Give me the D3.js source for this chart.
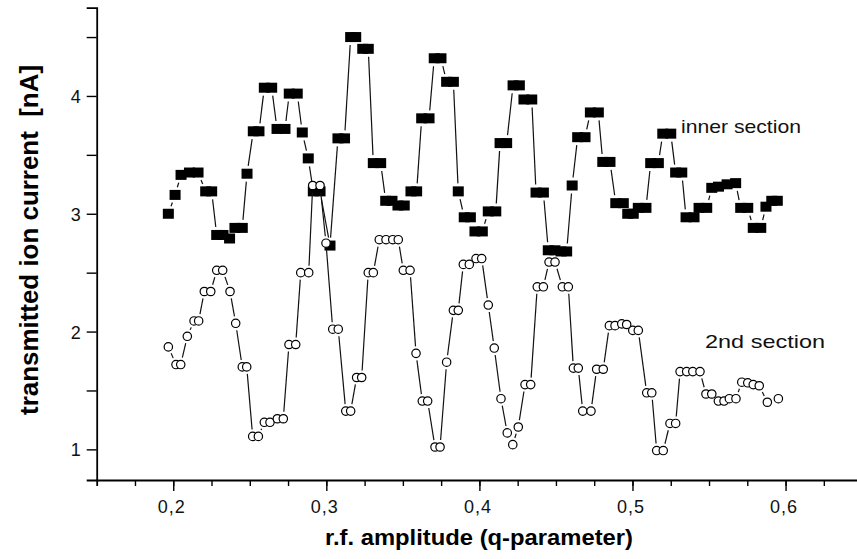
<!DOCTYPE html>
<html>
<head>
<meta charset="utf-8">
<script src="https://cdn.jsdelivr.net/npm/d3@7"></script>
<style>
  body { margin: 0; background: #fff; }
  svg { display: block; font-family: "Liberation Sans", Arial, sans-serif; }
</style>
</head>
<body>
<div id="graph"></div>
<script>
// values
const innerQ = [0.1968, 0.2012, 0.2051, 0.2106, 0.2162, 0.2212, 0.2251, 0.2284, 0.2325, 0.2368,
  0.2403, 0.2451, 0.2482, 0.2523, 0.2560, 0.2595, 0.2643, 0.2678, 0.2730, 0.2758,
  0.2810, 0.2843, 0.2882, 0.2915, 0.2959, 0.3024, 0.3076, 0.3119, 0.3159, 0.3192,
  0.3238, 0.3274, 0.3307, 0.3355, 0.3388, 0.3429, 0.3468, 0.3509, 0.3553, 0.3590,
  0.3623, 0.3671, 0.3705, 0.3749, 0.3786, 0.3830, 0.3862, 0.3901, 0.3941, 0.3971,
  0.4019, 0.4058, 0.4107, 0.4135, 0.4178, 0.4220, 0.4261, 0.4291, 0.4342, 0.4370,
  0.4418, 0.4450, 0.4494, 0.4533, 0.4570, 0.4606, 0.4642, 0.4690, 0.4725, 0.4777,
  0.4806, 0.4853, 0.4891, 0.4940, 0.4969, 0.5005, 0.5038, 0.5088, 0.5119, 0.5169,
  0.5198, 0.5250, 0.5282, 0.5322, 0.5350, 0.5402, 0.5435, 0.5485, 0.5518, 0.5562,
  0.5618, 0.5674, 0.5707, 0.5753, 0.5789, 0.5838, 0.5872, 0.5910, 0.5946];
const innerI = [3.00, 3.16, 3.33, 3.35, 3.35, 3.19, 3.19, 2.82, 2.82, 2.79,
  2.88, 2.88, 3.34, 3.70, 3.70, 4.07, 4.07, 3.72, 3.72, 4.02,
  4.02, 3.69, 3.47, 3.19, 3.19, 2.73, 3.64, 3.64, 4.50, 4.50,
  4.40, 4.40, 3.43, 3.43, 3.11, 3.11, 3.07, 3.07, 3.19, 3.19,
  3.81, 3.81, 4.32, 4.32, 4.12, 4.12, 3.19, 2.97, 2.97, 2.85,
  2.85, 3.02, 3.02, 3.60, 3.60, 4.09, 4.09, 3.97, 3.97, 3.18,
  3.18, 2.69, 2.69, 2.68, 2.68, 3.24, 3.65, 3.65, 3.86, 3.86,
  3.44, 3.44, 3.09, 3.09, 3.00, 3.00, 3.05, 3.05, 3.43, 3.43,
  3.68, 3.68, 3.35, 3.35, 2.97, 2.97, 3.05, 3.05, 3.22, 3.23,
  3.25, 3.26, 3.05, 3.05, 2.88, 2.88, 3.06, 3.11, 3.11];

const secondQ = [0.1968, 0.2018, 0.2049, 0.2092, 0.2136, 0.2166, 0.2203, 0.2245, 0.2284, 0.2323,
  0.2371, 0.2408, 0.2451, 0.2480, 0.2519, 0.2556, 0.2595, 0.2632, 0.2680, 0.2719,
  0.2756, 0.2800, 0.2833, 0.2885, 0.2911, 0.2959, 0.2998, 0.3042, 0.3078, 0.3127,
  0.3159, 0.3198, 0.3231, 0.3274, 0.3307, 0.3346, 0.3390, 0.3434, 0.3470, 0.3503,
  0.3547, 0.3586, 0.3627, 0.3662, 0.3710, 0.3743, 0.3786, 0.3830, 0.3862, 0.3895,
  0.3934, 0.3978, 0.4015, 0.4058, 0.4097, 0.4141, 0.4182, 0.4218, 0.4254, 0.4298,
  0.4335, 0.4378, 0.4418, 0.4455, 0.4494, 0.4542, 0.4581, 0.4614, 0.4646, 0.4675,
  0.4729, 0.4766, 0.4809, 0.4849, 0.4886, 0.4930, 0.4962, 0.5002, 0.5038, 0.5093,
  0.5126, 0.5158, 0.5201, 0.5245, 0.5282, 0.5311, 0.5354, 0.5394, 0.5441, 0.5480,
  0.5518, 0.5561, 0.5598, 0.5633, 0.5676, 0.5714, 0.5753, 0.5789, 0.5828, 0.5881,
  0.5953];
const secondI = [1.87, 1.72, 1.72, 1.96, 2.09, 2.09, 2.34, 2.34, 2.52, 2.52,
  2.34, 2.07, 1.70, 1.70, 1.11, 1.11, 1.23, 1.23, 1.26, 1.26,
  1.89, 1.89, 2.50, 2.50, 3.24, 3.24, 2.75, 2.02, 2.02, 1.325,
  1.325, 1.61, 1.61, 2.50, 2.50, 2.78, 2.78, 2.78, 2.78, 2.52,
  2.52, 1.815, 1.41, 1.41, 1.02, 1.02, 1.74, 2.18, 2.18, 2.57,
  2.57, 2.62, 2.62, 2.225, 1.86, 1.43, 1.14, 1.04, 1.19, 1.55,
  1.55, 2.38, 2.38, 2.59, 2.59, 2.38, 2.38, 1.69, 1.69, 1.325,
  1.325, 1.68, 1.68, 2.05, 2.05, 2.065, 2.06, 2.01, 2.01, 1.48,
  1.48, 0.99, 0.99, 1.22, 1.22, 1.66, 1.66, 1.66, 1.66, 1.47,
  1.47, 1.41, 1.41, 1.43, 1.43, 1.57, 1.565, 1.55, 1.54, 1.40,
  1.43];

const xMajorTicks = [0.2, 0.3, 0.4, 0.5, 0.6];
const xMinorTicks = d3.range(0.175, 0.65, 0.025);
const yMajorTicks = [1, 2, 3, 4];
const yMinorTicks = [1.5, 2.5, 3.5, 4.5];

const svgWidth = 857;
const svgHeight = 559;

const svg = d3.select('#graph')
  .append('svg')
  .attr('width', svgWidth)
  .attr('height', svgHeight);

const x = d3.scaleLinear()
  .domain([0.15, 0.65])
  .range([96.7, 862.1]);

const y = d3.scaleLinear()
  .domain([0.74, 4.75])
  .range([480, 7.6]);

// axes
const xMinor = svg.append('g')
  .attr('transform', `translate(0, ${y(0.74)})`)
  .call(d3.axisBottom(x).tickValues(xMinorTicks).tickSize(6).tickFormat(''));
const xMajor = svg.append('g')
  .attr('transform', `translate(0, ${y(0.74)})`)
  .call(d3.axisBottom(x).tickValues(xMajorTicks).tickSize(11)
    .tickFormat(d => d3.format('.1f')(d).replace('.', ',')));
xMajor.select('.domain').remove();
xMinor.select('.domain').attr('stroke-width', 1.8);
xMajor.selectAll('text')
  .attr('x', -2)
  .attr('y', 33).attr('dy', 0)
  .attr('font-size', 18)
  .attr('letter-spacing', 1)
  .attr('fill', '#111');

const yMinor = svg.append('g')
  .attr('transform', `translate(${x(0.15)}, 0)`)
  .call(d3.axisLeft(y).tickValues(yMinorTicks).tickSize(10).tickFormat(''));
const yMajor = svg.append('g')
  .attr('transform', `translate(${x(0.15)}, 0)`)
  .call(d3.axisLeft(y).tickValues(yMajorTicks).tickSize(10).tickFormat(d3.format('d')));
yMajor.select('.domain').remove();
yMinor.select('.domain').attr('stroke-width', 1.8);
yMajor.selectAll('text')
  .attr('x', -16).attr('dy', '0.36em')
  .attr('font-size', 18)
  .attr('fill', '#111');
svg.selectAll('.tick line').attr('stroke-width', 1.4);

// axis titles
svg.append('text')
  .attr('transform', `translate(38, 240) rotate(-90)`)
  .attr('text-anchor', 'middle')
  .attr('font-size', 25)
  .attr('font-weight', 'bold')
  .attr('textLength', 350)
  .attr('lengthAdjust', 'spacingAndGlyphs')
  .style('white-space', 'pre')
  .text('transmitted ion current  [nA]');

svg.append('text')
  .attr('x', 479)
  .attr('y', 545)
  .attr('text-anchor', 'middle')
  .attr('font-size', 22)
  .attr('font-weight', 'bold')
  .attr('textLength', 308)
  .attr('lengthAdjust', 'spacingAndGlyphs')
  .text('r.f. amplitude (q-parameter)');

// connecting lines, broken around each symbol
function drawGappedLine(qs, vals, gap) {
  const pts = qs.map((q, i) => [x(q), y(vals[i])]);
  const g = svg.append('g').attr('class', 'lines');
  for (let i = 1; i < pts.length; i++) {
    const [x0, y0] = pts[i - 1];
    const [x1, y1] = pts[i];
    const len = Math.hypot(x1 - x0, y1 - y0);
    if (len <= 2 * gap + 1) continue;
    const ux = (x1 - x0) / len, uy = (y1 - y0) / len;
    g.append('line')
      .attr('x1', x0 + ux * gap).attr('y1', y0 + uy * gap)
      .attr('x2', x1 - ux * gap).attr('y2', y1 - uy * gap)
      .attr('stroke', '#111')
      .attr('stroke-width', 1.2);
  }
}

drawGappedLine(innerQ, innerI, 8);

svg.append('g')
  .selectAll('rect')
  .data(innerQ)
  .join('rect')
  .attr('x', (d) => x(d) - 5.5)
  .attr('y', (d, i) => y(innerI[i]) - 5)
  .attr('width', 11)
  .attr('height', 10)
  .attr('fill', '#000');

drawGappedLine(secondQ, secondI, 7);

svg.append('g')
  .selectAll('circle')
  .data(secondQ)
  .join('circle')
  .attr('cx', (d) => x(d))
  .attr('cy', (d, i) => y(secondI[i]))
  .attr('r', 4.2)
  .attr('fill', '#fff')
  .attr('stroke', '#000')
  .attr('stroke-width', 1.2);

// series labels
svg.append('text')
  .attr('x', 681)
  .attr('y', 133)
  .attr('font-size', 19)
  .attr('textLength', 120)
  .attr('lengthAdjust', 'spacingAndGlyphs')
  .attr('fill', '#111')
  .text('inner section');

svg.append('text')
  .attr('x', 705)
  .attr('y', 348)
  .attr('font-size', 19)
  .attr('textLength', 120)
  .attr('lengthAdjust', 'spacingAndGlyphs')
  .attr('fill', '#111')
  .text('2nd section');
</script>
</body>
</html>
